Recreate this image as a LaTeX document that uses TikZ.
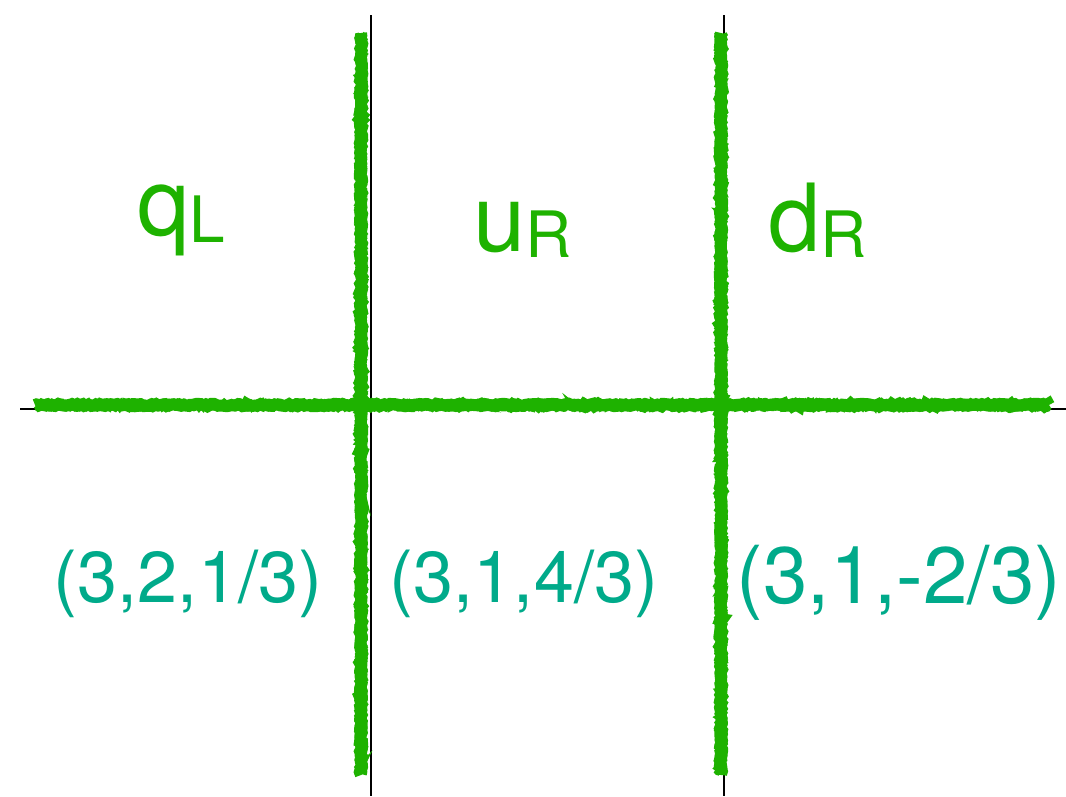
\documentclass[tikz,border=0pt]{standalone}
\usepackage{fontspec}
\setmainfont{TeX Gyre Heros}
\usetikzlibrary{decorations.pathmorphing}
\definecolor{chalkgreen}{RGB}{30,178,0}
\definecolor{chargeteal}{RGB}{0,170,138}
\tikzset{
  axisline/.style={line width=2.8pt,black},
  chalk/.style={line width=12pt,chalkgreen,line cap=butt,
    decorate,decoration={random steps,segment length=2.5pt,amplitude=1.2pt}},
  chalkedge/.style={line width=3.5pt,chalkgreen,line cap=butt,
    decorate,decoration={random steps,segment length=2pt,amplitude=1.3pt}},
  fieldname/.style={chalkgreen,anchor=base west,inner sep=0pt,font=\fontsize{94}{94}\selectfont},
  charge/.style={chargeteal,anchor=base,inner sep=0pt,font=\fontsize{72}{72}\selectfont}
}
\newcommand{\sublabel}[2]{\raisebox{-#2pt}{\fontsize{64}{64}\selectfont #1}}
\begin{document}
\begin{tikzpicture}[x=1pt,y=-1pt]
        \useasboundingbox (0,0) rectangle (1066,796);
        \pgfmathsetseed{7}
        % thin axes
        \coordinate (a1top) at (371,15);
        \coordinate (a1bot) at (371,796);
        \coordinate (a2top) at (724,15);
        \coordinate (a2bot) at (724,796);
        \coordinate (hleft) at (20,409);
        \coordinate (hright) at (1066,409);
        \draw[axisline] (a1top) -- (a1bot);
        \draw[axisline] (a2top) -- (a2bot);
        \draw[axisline] (hleft) -- (hright);
        % chalk lines
        \coordinate (g1top) at (361,33);
        \coordinate (g1bot) at (361,775);
        \coordinate (g2top) at (721,33);
        \coordinate (g2bot) at (721,775);
        \coordinate (gleft) at (35,405);
        \coordinate (gright) at (1049,405);
        \foreach \s/\e in {g1top/g1bot,g2top/g2bot,gleft/gright}{
          \draw[chalk] (\s) -- (\e);
        }
        \foreach \s/\e/\dx/\dy in {g1top/g1bot/-4/0,g1top/g1bot/4/0,g2top/g2bot/-4/0,g2top/g2bot/4/0,gleft/gright/0/-4,gleft/gright/0/4}{
          \draw[chalkedge] ([shift={(\dx,\dy)}]\s) -- ([shift={(\dx,\dy)}]\e);
        }
        % field names
        \node[fieldname] (qL) at (137,235) {q\sublabel{L}{7}};
        \node[fieldname] (uR) at (473,251) {u\sublabel{R}{6}};
        \node[fieldname] (dR) at (768,251) {d\sublabel{R}{6}};
        % charges
        \node[charge] (qLcharge) at (188,602) {(3,2,1/3)};
        \node[charge] (uRcharge) at (524,602) {(3,1,4/3)};
        \node[charge,font=\fontsize{80}{80}\selectfont] (dRcharge) at (899,603) {(3,1,-2/3)};
    \end{tikzpicture}
\end{document}
